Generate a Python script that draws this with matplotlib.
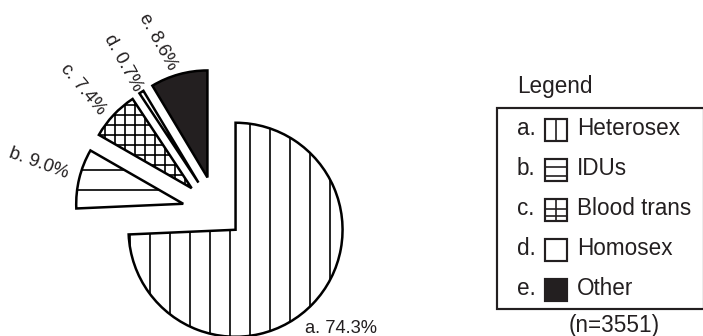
import matplotlib
matplotlib.use('Agg')
import matplotlib.pyplot as plt
from matplotlib.patches import Rectangle
from matplotlib.lines import Line2D

letters = ['a', 'b', 'c', 'd', 'e']
categories = ['Heterosex', 'IDUs', 'Blood trans', 'Homosex', 'Other']
shares = [74.3, 9.0, 7.4, 0.7, 8.6]
sample_size = 3551

W, H, DPI = 703, 336, 120
plt.rcParams['font.family'] = ['Liberation Sans', 'DejaVu Sans']
plt.rcParams['hatch.linewidth'] = 1.0
fig = plt.figure(figsize=(W / DPI, H / DPI), dpi=DPI)

def fx(px):
    return px / W

def fy(py):
    return 1 - py / H

# ---- pie ----
R = 107
cx, cy = 217, 212
axw = 450
ax = fig.add_axes([0, 0, axw / W, 1])
fills = ['white', 'white', 'white', 'white', '#231f20']
hatches = ['|', '-', '++', '', '']
explode = [0.24, 0.325, 0.325, 0.325, 0.335]
wedges, _ = ax.pie(shares, startangle=90, counterclock=False, explode=explode,
                   colors=fills, hatch=hatches, radius=1, center=(0, 0),
                   wedgeprops=dict(edgecolor='black', linewidth=1.5, joinstyle='miter'),
                   frame=False)
ax.set_aspect('auto')
ax.set_xlim(-cx / R, (axw - cx) / R)
ax.set_ylim(-(H - cy) / R, cy / R)
ax.axis('off')

# ---- pie labels ----
lab_fs = 11
label_layout = {
    'a': dict(x=305, y=333, rot=0, ha='left', va='baseline'),
    'b': dict(x=39, y=163, rot=-20, ha='center', va='center'),
    'c': dict(x=83, y=89, rot=-50, ha='center', va='center'),
    'd': dict(x=123, y=63, rot=-61, ha='center', va='center'),
    'e': dict(x=158, y=42, rot=-61, ha='center', va='center'),
}
for let, val in zip(letters, shares):
    L = label_layout[let]
    fig.text(fx(L['x']), fy(L['y']), f"{let}. {val:.1f}%", fontsize=lab_fs,
             rotation=L['rot'], ha=L['ha'], va=L['va'], rotation_mode='anchor',
             color='#231f20')

# ---- legend ----
leg_fs = 13.5
fig.text(fx(517), fy(93), 'Legend', fontsize=leg_fs, ha='left', va='baseline', color='#231f20')
box_l, box_t, box_r, box_b = 497, 108, 703.5, 309
fig.patches.append(Rectangle((fx(box_l), fy(box_b)), fx(box_r) - fx(box_l), fy(box_t) - fy(box_b),
                             transform=fig.transFigure, fill=False, edgecolor='#231f20', linewidth=1.3))

icon_l, icon_r = 545, 567
icon_lines = {
    'a': dict(v=[0.5], h=[]),
    'b': dict(v=[], h=[0.35, 0.75]),
    'c': dict(v=[0.5], h=[0.45, 0.78]),
    'd': dict(v=[], h=[]),
    'e': dict(v=[], h=[]),
}
for i, (let, cat) in enumerate(zip(letters, categories)):
    base = 135 + 40 * i
    fig.text(fx(517), fy(base), f"{let}.", fontsize=leg_fs, ha='left', va='baseline', color='#231f20')
    fig.text(fx(577), fy(base), cat, fontsize=leg_fs, ha='left', va='baseline', color='#231f20')
    top, bot = base - 16, base + 6
    fig.patches.append(Rectangle((fx(icon_l), fy(bot)), fx(icon_r) - fx(icon_l), fy(top) - fy(bot),
                                 transform=fig.transFigure, facecolor=fills[i],
                                 edgecolor='#231f20', linewidth=1.3))
    for v in icon_lines[let]['v']:
        xx = icon_l + v * (icon_r - icon_l)
        fig.lines.append(Line2D([fx(xx), fx(xx)], [fy(top), fy(bot)], transform=fig.transFigure,
                                color='#231f20', linewidth=1.0))
    for h in icon_lines[let]['h']:
        yy = top + h * (bot - top)
        fig.lines.append(Line2D([fx(icon_l), fx(icon_r)], [fy(yy), fy(yy)], transform=fig.transFigure,
                                color='#231f20', linewidth=1.0))

fig.text(fx(569), fy(332), f"(n={sample_size})", fontsize=leg_fs, ha='left', va='baseline', color='#231f20')

fig.savefig('out.png', dpi=DPI)
